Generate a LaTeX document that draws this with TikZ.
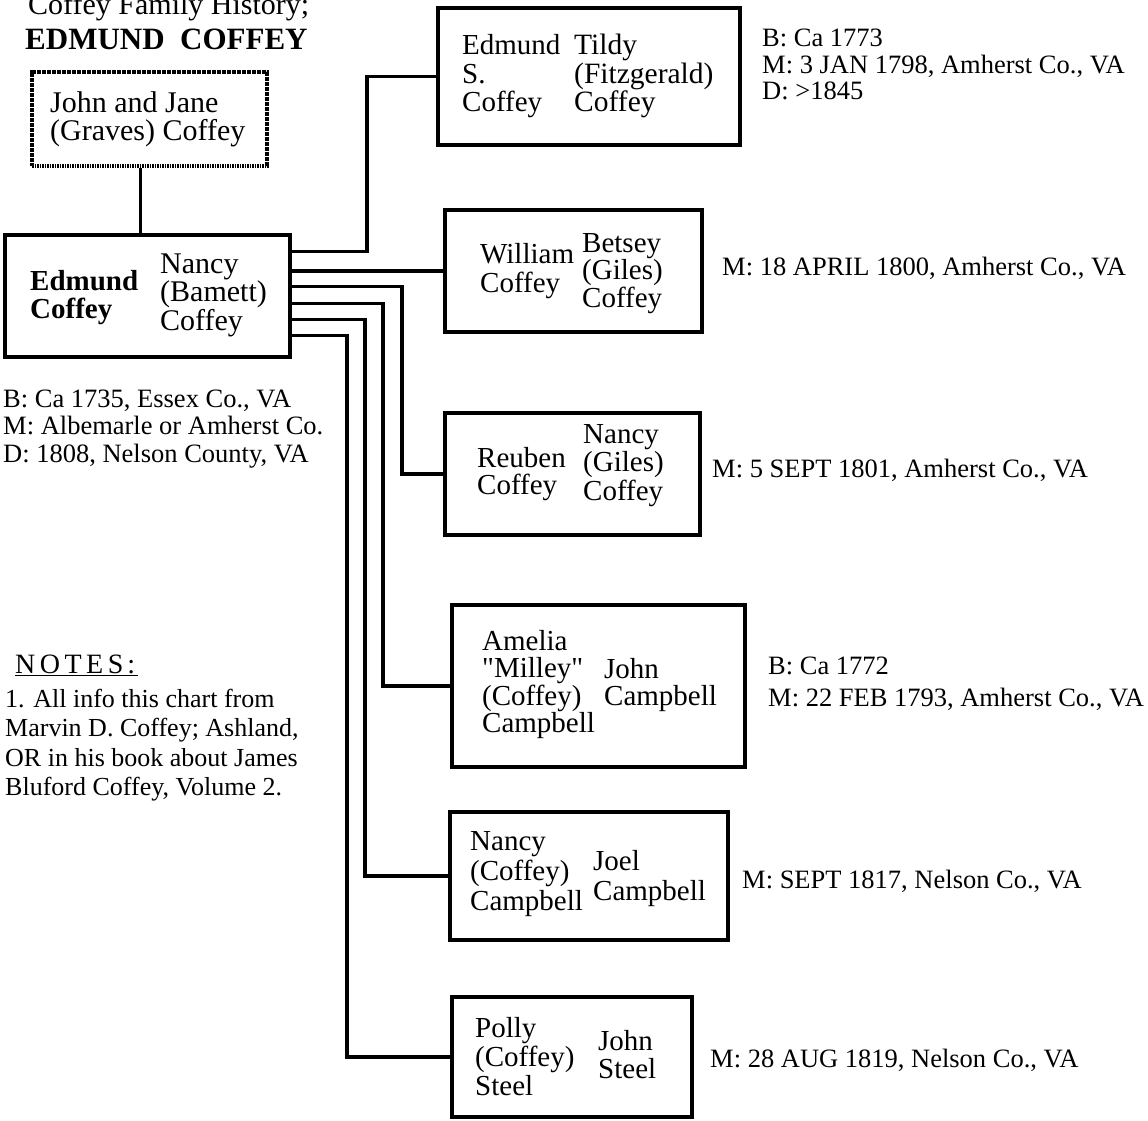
\documentclass[tikz,border=0pt]{standalone}
\usepackage{fontspec}
\setmainfont{Liberation Serif}
\begin{document}
\begin{tikzpicture}[x=1pt,y=-1pt,
  box/.style={draw, line width=3.5pt, rectangle, inner sep=0pt},
  conn/.style={line width=3.5pt},
  txt/.style={anchor=base west, inner sep=0pt, align=left, font=\fontsize{30}{28.5}\selectfont},
  data/.style={anchor=base west, inner sep=0pt, align=left, font=\fontsize{26.5}{27}\selectfont}]
\useasboundingbox (0,0) rectangle (1148,1121);
\clip (0,0) rectangle (1148,1121);
\fill[white] (0,0) rectangle (1148,1121);

% title
\node[txt] (t1) at (28,15) {Coffey Family History;};
\node[txt, font=\fontsize{31}{31}\selectfont\bfseries] (t2) at (25,50) {EDMUND\ \ COFFEY};

% boxes
\node[box, dash pattern=on 1.6pt off 0.9pt, line width=3.5pt, minimum width=235pt, minimum height=94pt] (jj) at (149.5,119) {};
\node[box, minimum width=285pt, minimum height=122pt] (ed) at (147.5,296) {};
\node[box, minimum width=302pt, minimum height=137pt] (es) at (589,76.5) {};
\node[box, minimum width=257pt, minimum height=122pt] (wi) at (573.5,271) {};
\node[box, minimum width=255pt, minimum height=122pt] (re) at (572.5,474) {};
\node[box, minimum width=293pt, minimum height=162pt] (am) at (598.5,686) {};
\node[box, minimum width=278pt, minimum height=128pt] (nc) at (589,876) {};
\node[box, minimum width=240pt, minimum height=120pt] (po) at (572,1057) {};

% bus coordinates
\coordinate (v1) at (367,0);
\coordinate (v3) at (402,0);
\coordinate (v4) at (383,0);
\coordinate (v5) at (365,0);
\coordinate (v6) at (347,0);

% connectors
\draw[conn] ([xshift=-9pt]jj.south) -- ([xshift=-9pt]jj.south |- ed.north);
\draw[conn] ([yshift=-18pt]ed.north east) -| (es.west -| v1) -- (es.west);
\draw[conn] (ed.east |- wi.west) -- (wi.west);
\draw[conn] ([yshift=-53pt]ed.north east) -| (re.west -| v3) -- (re.west);
\draw[conn] ([yshift=-70pt]ed.north east) -| (am.west -| v4) -- (am.west);
\draw[conn] ([yshift=-86pt]ed.north east) -| (nc.west -| v5) -- (nc.west);
\draw[conn] ([yshift=-102pt]ed.north east) -| (po.west -| v6) -- (po.west);

% box texts (anchor = baseline of last line)
\node[txt, font=\fontsize{30}{28}\selectfont] (jjt) at (50,140) {John and Jane\\(Graves) Coffey};
\node[txt, font=\fontsize{29}{28}\selectfont\bfseries] (edt1) at (30,318) {Edmund\\Coffey};
\node[txt, font=\fontsize{30}{27.5}\selectfont] (edt2) at (160,330) {Nancy\\(Bamett)\\Coffey};

\node[txt, font=\fontsize{29}{28.5}\selectfont] (est1) at (462,112) {Edmund\\S.\\Coffey};
\node[txt, font=\fontsize{29.5}{28.5}\selectfont] (est2) at (574,112) {Tildy\\(Fitzgerald)\\Coffey};

\node[txt, font=\fontsize{29}{29}\selectfont] (wit1) at (480,292) {William\\Coffey};
\node[txt, font=\fontsize{29}{26}\selectfont] (wit2) at (582,307) {Betsey\\(Giles)\\Coffey};

\node[txt, font=\fontsize{29}{27}\selectfont] (ret1) at (477,494) {Reuben\\Coffey};
\node[txt, font=\fontsize{29}{28.5}\selectfont] (ret2) at (583,500) {Nancy\\(Giles)\\Coffey};

\node[txt, font=\fontsize{29}{27.5}\selectfont] (amt1) at (482,732.5) {Amelia\\\textquotedbl Milley\textquotedbl\\(Coffey)\\Campbell};
\node[txt, font=\fontsize{29}{27}\selectfont] (amt2) at (604,705) {John\\Campbell};

\node[txt, font=\fontsize{29}{30}\selectfont] (nct1) at (470,910) {Nancy\\(Coffey)\\Campbell};
\node[txt, font=\fontsize{29}{30}\selectfont] (nct2) at (593,900) {Joel\\Campbell};

\node[txt, font=\fontsize{29}{29}\selectfont] (pot1) at (475,1095) {Polly\\(Coffey)\\Steel};
\node[txt, font=\fontsize{29}{28}\selectfont] (pot2) at (598,1078) {John\\Steel};

% data texts
\node[data, font=\fontsize{26.5}{26.5}\selectfont] (esd) at (762,100) {B: Ca 1773\\M: 3 JAN 1798, Amherst Co., VA\\D: >1845};
\node[data] (wid) at (722,275) {M: 18 APRIL 1800, Amherst Co., VA};
\node[data] (red) at (712,477) {M: 5 SEPT 1801, Amherst Co., VA};
\node[data, font=\fontsize{26.5}{32}\selectfont] (amd) at (768,706) {B: Ca 1772\\M: 22 FEB 1793, Amherst Co., VA};
\node[data] (ncd) at (742,888) {M: SEPT 1817, Nelson Co., VA};
\node[data] (pod) at (710,1067) {M: 28 AUG 1819, Nelson Co., VA};
\node[data, font=\fontsize{26.5}{27.5}\selectfont] (edd) at (3,462) {B: Ca 1735, Essex Co., VA\\M: Albemarle or Amherst Co.\\D: 1808, Nelson County, VA};

% notes
\node[data, font=\fontsize{28}{28}\selectfont] (nh) at (15,673) {\underline{N\kern4.5pt O\kern4.5pt T\kern4.5pt E\kern4.5pt S\kern4pt :\kern3pt}};
\node[data, font=\fontsize{26}{29.5}\selectfont] (nt) at (5,795.5) {1. All info this chart from\\Marvin D. Coffey; Ashland,\\OR in his book about James\\Bluford Coffey, Volume 2.};
\end{tikzpicture}
\end{document}
